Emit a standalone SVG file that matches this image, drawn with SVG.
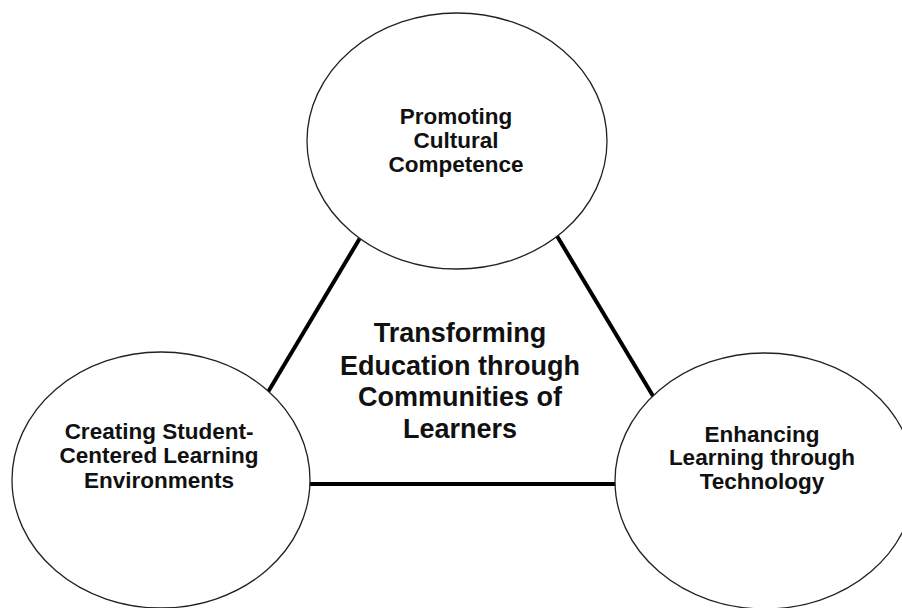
<svg xmlns="http://www.w3.org/2000/svg" width="902" height="608" viewBox="0 0 902 608">
<style>
.node{fill:#fff;stroke:#222;stroke-width:1.3}
.lbl{font-family:"Liberation Sans",Arial,sans-serif;font-weight:bold;font-size:22.5px;fill:#111;text-anchor:middle}
.ctr{font-family:"Liberation Sans",Arial,sans-serif;font-weight:bold;font-size:27px;fill:#111;text-anchor:middle}
.conn{stroke:#000;stroke-width:4;fill:none}
</style>
<rect width="902" height="608" fill="#fff"/>
<g id="connectors">
<line class="conn" x1="360" y1="238" x2="268" y2="392"/>
<line class="conn" x1="557" y1="236" x2="653" y2="396"/>
<line class="conn" x1="309" y1="484" x2="616" y2="484"/>
</g>
<g id="center">
<text class="ctr" x="460" y="342">Transforming</text>
<text class="ctr" x="460" y="374.5">Education through</text>
<text class="ctr" x="460" y="406">Communities of</text>
<text class="ctr" x="460" y="438">Learners</text>
</g>
<g id="node-top">
<ellipse class="node" cx="457" cy="141" rx="150" ry="128"/>
<text class="lbl" x="456" y="124">Promoting</text>
<text class="lbl" x="456" y="148">Cultural</text>
<text class="lbl" x="456" y="172">Competence</text>
</g>
<g id="node-left">
<ellipse class="node" cx="161" cy="480" rx="149" ry="128"/>
<text class="lbl" x="159" y="439">Creating Student-</text>
<text class="lbl" x="159" y="463">Centered Learning</text>
<text class="lbl" x="159" y="488">Environments</text>
</g>
<g id="node-right">
<ellipse class="node" cx="765" cy="481" rx="150" ry="128"/>
<text class="lbl" x="762" y="442">Enhancing</text>
<text class="lbl" x="762" y="465">Learning through</text>
<text class="lbl" x="762" y="489">Technology</text>
</g>
</svg>
